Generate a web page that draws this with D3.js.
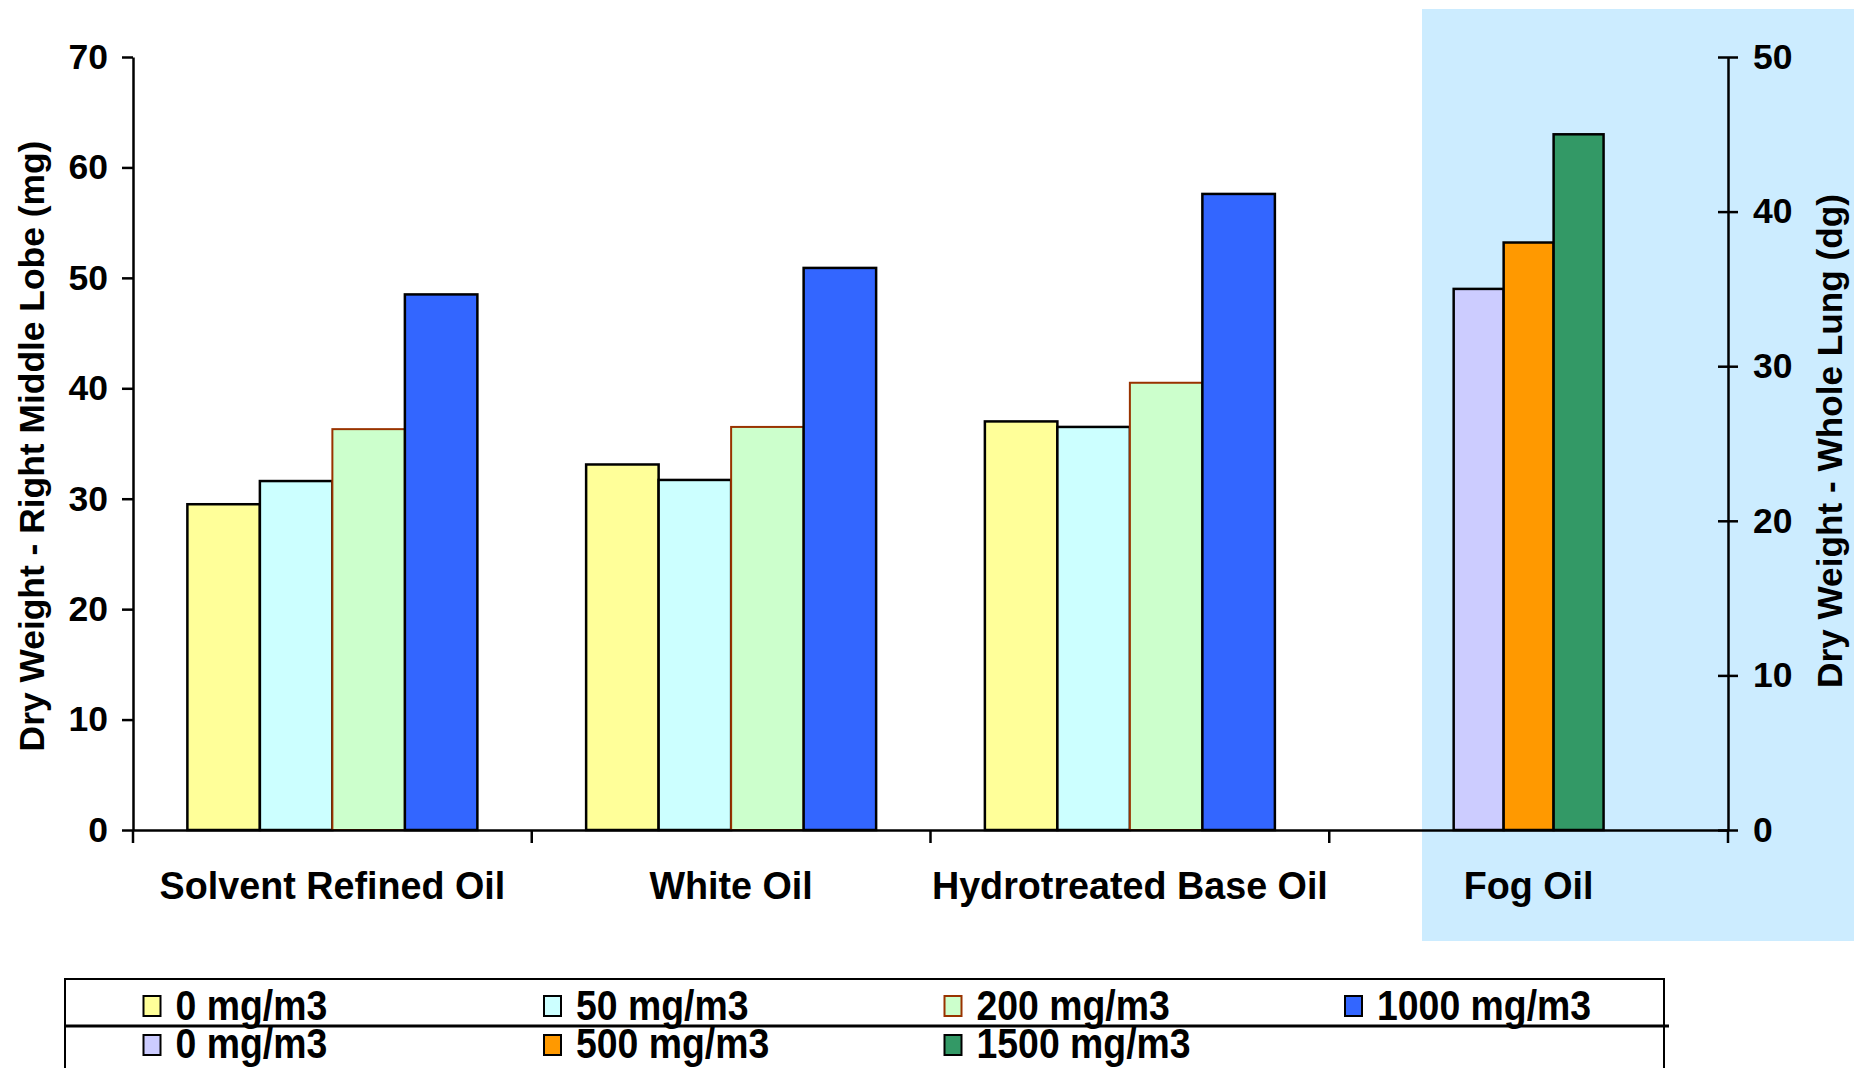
<!DOCTYPE html>
<html>
<head>
<meta charset="utf-8">
<script src="https://cdn.jsdelivr.net/npm/d3@7"></script>
<style>
  html, body { margin: 0; padding: 0; background: #ffffff; }
  svg { display: block; }
  text { font-family: "Liberation Sans", Arial, sans-serif; font-weight: bold; fill: #000; }
</style>
</head>
<body>
<svg id="chart" width="1860" height="1068"></svg>
<script>
// ---------- DATA ----------
const categories = ["Solvent Refined Oil", "White Oil", "Hydrotreated Base Oil", "Fog Oil"];
const primaryCategories = ["Solvent Refined Oil", "White Oil", "Hydrotreated Base Oil"];
const primarySeries = ["0 mg/m3", "50 mg/m3", "200 mg/m3", "1000 mg/m3"];
// values per primary series, across the three primary categories (mg)
const primary0 = [29.5, 33.1, 37.0];
const primary50 = [31.6, 31.7, 36.5];
const primary200 = [36.3, 36.5, 40.5];
const primary1000 = [48.5, 50.9, 57.6];
const secondaryCategory = "Fog Oil";
const secondarySeries = ["0 mg/m3", "500 mg/m3", "1500 mg/m3"];
const secondaryValues = [35.0, 38.0, 45.0]; // dg
const leftTicks = [0, 10, 20, 30, 40, 50, 60, 70];
const rightTicks = [0, 10, 20, 30, 40, 50];
const leftTitle = "Dry Weight - Right Middle Lobe (mg)";
const rightTitle = "Dry Weight - Whole Lung (dg)";

const primaryFills = ["#FFFF99", "#CCFFFF", "#CCFFCC", "#3366FF"];
const primaryStrokes = ["#000000", "#000000", "#993300", "#000000"];
const secondaryFills = ["#CCCCFF", "#FF9900", "#339966"];
const secondaryStrokes = ["#000000", "#000000", "#000000"];

// ---------- LAYOUT ----------
const svg = d3.select("#chart");
const plotLeft = 133, plotRight = 1728, plotTop = 57, plotBottom = 830;

const x = d3.scaleBand().domain(categories).range([plotLeft, plotRight]).padding(0);
const xPrim = d3.scaleBand().domain(primarySeries).range([0, x.bandwidth()]).paddingInner(0).paddingOuter(0.75);
const xSec = d3.scaleBand().domain(secondarySeries).range([0, x.bandwidth()]).paddingInner(0).paddingOuter(2.49);
const yL = d3.scaleLinear().domain([0, 70]).range([plotBottom, plotTop]);
const yR = d3.scaleLinear().domain([0, 50]).range([plotBottom, plotTop]);

// Fog oil highlight background
svg.append("rect")
  .attr("x", 1422).attr("y", 9)
  .attr("width", 1854 - 1422).attr("height", 941 - 9)
  .attr("fill", "#CCECFF");

// ---------- BARS ----------
const primaryData = [primary0, primary50, primary200, primary1000];
const primaryRows = [];
primarySeries.forEach((s, si) => {
  primaryCategories.forEach((c, ci) => {
    primaryRows.push({ cat: c, series: s, si, value: primaryData[si][ci] });
  });
});
svg.append("g").selectAll("rect").data(primaryRows).join("rect")
  .attr("x", d => x(d.cat) + xPrim(d.series))
  .attr("y", d => yL(d.value))
  .attr("width", xPrim.bandwidth())
  .attr("height", d => yL(0) - yL(d.value))
  .attr("fill", d => primaryFills[d.si])
  .attr("stroke", d => primaryStrokes[d.si])
  .attr("stroke-width", d => d.si === 2 ? 2 : 2.5);

const secRows = secondarySeries.map((s, si) => ({ series: s, si, value: secondaryValues[si] }));
svg.append("g").selectAll("rect").data(secRows).join("rect")
  .attr("x", d => x(secondaryCategory) + xSec(d.series))
  .attr("y", d => yR(d.value))
  .attr("width", xSec.bandwidth())
  .attr("height", d => yR(0) - yR(d.value))
  .attr("fill", d => secondaryFills[d.si])
  .attr("stroke", d => secondaryStrokes[d.si])
  .attr("stroke-width", 2.5);

// ---------- AXES ----------
const leftAxis = svg.append("g").attr("transform", `translate(${plotLeft},0)`)
  .call(d3.axisLeft(yL).tickValues(leftTicks).tickSize(11).tickSizeOuter(0).tickPadding(14));
leftAxis.select(".domain").attr("stroke", "#000").attr("stroke-width", 2.5);
leftAxis.selectAll(".tick line").attr("stroke", "#000").attr("stroke-width", 2.5);
leftAxis.selectAll(".tick text").style("font-size", "35.5px").style("font-family", "'Liberation Sans', Arial, sans-serif").style("font-weight", "bold");

const rightAxis = svg.append("g").attr("transform", `translate(${plotRight},0)`)
  .call(d3.axisRight(yR).tickValues(rightTicks).tickSize(10).tickSizeOuter(0).tickPadding(15));
rightAxis.select(".domain").attr("stroke", "#000").attr("stroke-width", 2.5);
rightAxis.selectAll(".tick line").attr("x1", -10).attr("stroke", "#000").attr("stroke-width", 2.5);
rightAxis.selectAll(".tick text").style("font-size", "35.5px").style("font-family", "'Liberation Sans', Arial, sans-serif").style("font-weight", "bold");

// category axis (boundary ticks)
const bottomAxis = svg.append("g").attr("transform", `translate(0,${plotBottom})`)
  .call(d3.axisBottom(x).tickSize(0).tickFormat(""));
bottomAxis.select(".domain").attr("stroke", "#000").attr("stroke-width", 2.5);
bottomAxis.selectAll(".tick").remove();
const boundaries = categories.map(c => x(c)).concat([x(categories[categories.length - 1]) + x.bandwidth()]);
bottomAxis.selectAll("line.bnd").data(boundaries).join("line")
  .attr("class", "bnd")
  .attr("x1", d => d).attr("x2", d => d)
  .attr("y1", 0).attr("y2", 13)
  .attr("stroke", "#000").attr("stroke-width", 2.5);

// category labels
svg.append("g").selectAll("text").data(categories).join("text")
  .attr("transform", d => `translate(${x(d) + x.bandwidth() / 2},899) scale(1,1.04)`)
  .attr("text-anchor", "middle")
  .style("font-size", "37.7px")
  .text(d => d);

// axis titles
svg.append("text")
  .attr("transform", "translate(44,446) rotate(-90)")
  .attr("text-anchor", "middle")
  .style("font-size", "35.4px")
  .text(leftTitle);
svg.append("text")
  .attr("transform", "translate(1842,441) rotate(-90)")
  .attr("text-anchor", "middle")
  .style("font-size", "35.2px")
  .text(rightTitle);

// ---------- LEGEND ----------
const legend = svg.append("g");
legend.append("path")
  .attr("d", "M65,1080 V979 H1664 V1080")
  .attr("fill", "none").attr("stroke", "#000").attr("stroke-width", 2);
legend.append("line")
  .attr("x1", 65).attr("x2", 1669).attr("y1", 1026).attr("y2", 1026)
  .attr("stroke", "#000").attr("stroke-width", 3);

const colX = d3.scalePoint().domain([0, 1, 2, 3]).range([143.5, 1345]);
const legendItems = primarySeries.map((s, i) => ({ label: s, fill: primaryFills[i], stroke: primaryStrokes[i], col: i, row: 0 }))
  .concat(secondarySeries.map((s, i) => ({ label: s, fill: secondaryFills[i], stroke: secondaryStrokes[i], col: i, row: 1 })));
const rowTop = [996, 1035];
const rowBase = [1020, 1058];
const li = legend.selectAll("g.item").data(legendItems).join("g").attr("class", "item");
li.append("rect")
  .attr("x", d => colX(d.col)).attr("y", d => rowTop[d.row])
  .attr("width", 17).attr("height", 20)
  .attr("fill", d => d.fill).attr("stroke", d => d.stroke).attr("stroke-width", 2);
li.append("text")
  .attr("transform", d => `translate(${colX(d.col) + 32},${rowBase[d.row]}) scale(1,1.14)`)
  .style("font-size", "37.4px")
  .text(d => d.label);
</script>
</body>
</html>
